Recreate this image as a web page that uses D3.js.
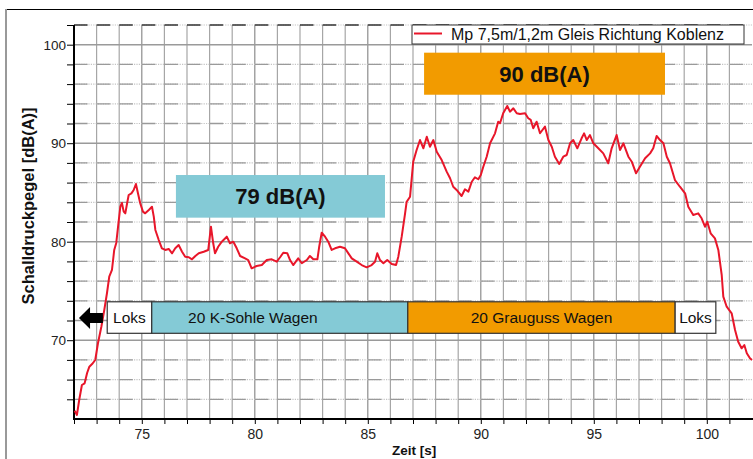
<!DOCTYPE html>
<html>
<head>
<meta charset="utf-8">
<script src="https://cdn.jsdelivr.net/npm/d3@7"></script>
<style>
  body { margin: 0; background: #fff; }
  text { font-family: 'Liberation Sans', Arial, sans-serif; }
</style>
</head>
<body>
<svg id="chart" width="753" height="459"></svg>
<script>
// Messreihe: Zeit [s] und Schalldruckpegel [dB(A)]
const zeit = [
  72.03, 72.13, 72.23, 72.35, 72.47, 72.58, 72.68, 72.80, 72.94, 73.06,
  73.21, 73.34, 73.46, 73.56, 73.68, 73.78, 73.87, 73.95, 74.05, 74.12,
  74.20, 74.27, 74.35, 74.42, 74.54, 74.64, 74.74, 74.83, 74.93, 75.05,
  75.15, 75.31, 75.45, 75.53, 75.60, 75.75, 75.89, 76.04, 76.19, 76.34,
  76.48, 76.63, 76.78, 76.92, 77.08, 77.22, 77.37, 77.52, 77.74, 77.94,
  78.06, 78.16, 78.24, 78.38, 78.54, 78.76, 78.90, 79.05, 79.20, 79.35,
  79.57, 79.71, 79.86, 80.08, 80.31, 80.53, 80.75, 80.97, 81.12, 81.26,
  81.44, 81.56, 81.70, 81.92, 82.08, 82.30, 82.44, 82.59, 82.77, 82.85,
  82.96, 83.11, 83.25, 83.40, 83.55, 83.77, 83.99, 84.14, 84.29, 84.51,
  84.73, 84.95, 85.17, 85.32, 85.42, 85.54, 85.69, 85.86, 86.06, 86.25,
  86.35, 86.50, 86.65, 86.72, 86.87, 87.01, 87.16, 87.31, 87.46, 87.61,
  87.75, 87.90, 88.05, 88.27, 88.49, 88.64, 88.78, 88.93, 89.15, 89.30,
  89.45, 89.60, 89.74, 89.89, 90.00, 90.11, 90.26, 90.41, 90.63, 90.77,
  90.85, 90.99, 91.17, 91.29, 91.44, 91.59, 91.73, 91.96, 92.10, 92.21,
  92.32, 92.47, 92.62, 92.84, 92.99, 93.14, 93.28, 93.47, 93.65, 93.80,
  93.95, 94.09, 94.27, 94.46, 94.57, 94.69, 94.83, 94.98, 95.20, 95.42,
  95.64, 95.79, 96.01, 96.16, 96.31, 96.53, 96.68, 96.87, 97.04, 97.27,
  97.49, 97.63, 97.78, 97.93, 98.08, 98.23, 98.37, 98.59, 98.81, 99.04,
  99.18, 99.40, 99.62, 99.77, 99.92, 100.02, 100.17, 100.36, 100.51, 100.66,
  100.73, 100.88, 101.10, 101.25, 101.39, 101.54, 101.66, 101.77, 101.91, 102.0
]
const pegel = [
  62.84, 62.41, 63.93, 65.45, 65.62, 66.67, 67.31, 67.58, 67.99, 69.69,
  71.37, 73.07, 74.79, 76.45, 77.13, 79.16, 79.87, 81.52, 83.55, 83.93,
  83.05, 82.88, 83.90, 84.74, 84.91, 85.25, 85.86, 84.91, 83.90, 83.05,
  82.88, 83.22, 83.55, 82.54, 81.19, 80.17, 79.33, 79.16, 79.26, 78.82,
  79.33, 79.66, 78.98, 78.48, 78.42, 78.21, 78.55, 78.82, 78.98, 79.16,
  81.52, 79.84, 78.82, 79.49, 80.00, 80.51, 79.84, 80.00, 79.33, 78.55,
  78.31, 78.14, 77.30, 77.53, 77.63, 78.14, 78.21, 77.97, 78.42, 78.88,
  78.82, 78.14, 77.63, 78.31, 77.81, 78.14, 78.55, 78.21, 78.21, 79.49,
  80.91, 80.51, 80.00, 79.16, 79.33, 79.49, 79.33, 78.82, 78.31, 77.97,
  77.63, 77.40, 77.63, 77.97, 78.82, 78.14, 77.81, 78.14, 77.74, 77.63,
  78.48, 80.51, 82.88, 84.06, 84.57, 88.12, 89.31, 90.32, 89.48, 90.66,
  89.64, 90.32, 89.14, 88.29, 87.11, 86.44, 85.58, 85.25, 84.64, 85.32,
  85.08, 86.09, 86.54, 86.34, 86.77, 87.61, 88.63, 89.99, 91.00, 92.18,
  92.02, 93.04, 93.78, 93.20, 93.54, 93.04, 92.96, 93.04, 92.53, 92.36,
  91.51, 92.18, 91.01, 91.68, 90.32, 89.64, 88.63, 87.89, 88.63, 88.80,
  89.99, 90.32, 89.48, 90.50, 91.00, 90.32, 90.83, 89.99, 89.48, 88.97,
  87.96, 89.48, 90.83, 89.31, 89.99, 88.63, 88.12, 86.94, 87.61, 88.47,
  88.97, 89.48, 90.73, 90.32, 89.99, 88.63, 87.96, 86.26, 85.58, 84.91,
  83.55, 82.71, 82.88, 82.38, 81.52, 82.03, 80.85, 80.34, 79.16, 76.62,
  74.42, 73.40, 72.73, 71.04, 69.85, 69.18, 69.51, 68.67, 68.16, 67.99
]
const xTicks = [75, 80, 85, 90, 95, 100]
const yTicks = [70, 80, 90, 100]
const legendLabel = 'Mp 7,5m/1,2m Gleis Richtung Koblenz'
// Zugverband (Zeitabschnitte)
const zugTeile = ['Loks', '20 K-Sohle Wagen', '20 Grauguss Wagen', 'Loks']
const zugGrenzen = [73.47, 75.44, 86.77, 98.6, 100.4]
// Mittelungspegel der Abschnitte
const mittelLabels = ['79 dB(A)', '90 dB(A)']
const mittelVon = [76.51, 87.49]
const mittelBis = [85.76, 98.15]

const width = 753
const height = 459
const padding = { top: 25, right: 1, bottom: 40, left: 74 }
const colors = ['#ffffff', '#84cad6', '#f29b00', '#ffffff']
const lineColor = '#e8162a'

const svg = d3.select('#chart')
const x = d3.scaleLinear().domain([72, 102]).range([padding.left, width - padding.right])
const y = d3.scaleLinear().domain([62, 102]).range([height - padding.bottom, padding.top])
const x0 = x.range()[0]
const x1 = x.range()[1]
const yb = y.range()[0]
const yt = y.range()[1]

// Rahmen
svg.append('line').attr('x1', 6).attr('x2', width).attr('y1', 9.5).attr('y2', 9.5)
  .attr('stroke', '#000').attr('stroke-width', 1)
svg.append('line').attr('x1', 6).attr('x2', 6).attr('y1', 9).attr('y2', height)
  .attr('stroke', '#999').attr('stroke-width', 2)

// Gitter
const grid = svg.append('g').attr('class', 'grid')
grid.selectAll('.vgrid').data(d3.range(73, 102))
  .enter().append('line')
  .attr('x1', d => x(d)).attr('x2', d => x(d))
  .attr('y1', yt).attr('y2', yb)
  .attr('stroke', d => d % 5 === 0 ? '#8c8c8c' : '#a6a6a6')
  .attr('stroke-width', 1.2)
const minorY = d3.range(64, 103, 2).filter(d => d % 10 !== 0)
const per = x(73) - x(72)
grid.selectAll('.hdot').data(minorY)
  .enter().append('line')
  .attr('x1', x0).attr('x2', x1)
  .attr('y1', d => y(d)).attr('y2', d => y(d))
  .attr('stroke', '#c4c4c4').attr('stroke-width', 1.2)
  .attr('stroke-dasharray', '1.2,1.2')
grid.selectAll('.hdash').data(minorY)
  .enter().append('line')
  .attr('x1', x0).attr('x2', x1)
  .attr('y1', d => y(d)).attr('y2', d => y(d))
  .attr('stroke', d => d === 102 ? '#333' : '#9a9a9a').attr('stroke-width', 1.3)
  .attr('stroke-dasharray', `${per * 0.6},${per * 0.4}`)
grid.selectAll('.hmajor').data(yTicks)
  .enter().append('line')
  .attr('x1', x0).attr('x2', x1)
  .attr('y1', d => y(d)).attr('y2', d => y(d))
  .attr('stroke', '#9a9a9a').attr('stroke-width', 1.4)

// Achsen
const yAxis = d3.axisLeft(y).tickValues(d3.range(64, 103, 2)).tickSize(7)
  .tickFormat(d => yTicks.includes(d) ? d : '')
const yAxisG = svg.append('g').attr('transform', `translate(${x0},0)`).call(yAxis)
yAxisG.select('.domain').remove()
yAxisG.selectAll('.tick line').attr('stroke', '#000')
yAxisG.selectAll('.tick text').attr('font-size', 13.5).attr('fill', '#222').attr('x', -8)
const xAxis = d3.axisBottom(x).tickValues(d3.range(72, 102)).tickSize(5)
  .tickFormat(d => xTicks.includes(d) ? d : '')
const xAxisG = svg.append('g').attr('transform', `translate(0,${yb})`).call(xAxis)
xAxisG.select('.domain').remove()
xAxisG.selectAll('.tick line').attr('stroke', '#000')
xAxisG.selectAll('.tick text').attr('font-size', 14).attr('fill', '#222').attr('y', 10)
svg.append('line').attr('x1', x0).attr('x2', x0).attr('y1', yt).attr('y2', yb + 1)
  .attr('stroke', '#000').attr('stroke-width', 2)
svg.append('line').attr('x1', x0 - 1).attr('x2', width).attr('y1', yb).attr('y2', yb)
  .attr('stroke', '#000').attr('stroke-width', 2)

svg.append('text')
  .attr('transform', 'translate(33.5,206) rotate(-90)')
  .attr('text-anchor', 'middle').attr('font-weight', 'bold').attr('font-size', 16.5)
  .attr('fill', '#111')
  .text('Schalldruckpegel [dB(A)]')
svg.append('text')
  .attr('x', 392).attr('y', 455)
  .attr('font-weight', 'bold').attr('font-size', 13.5).attr('fill', '#111')
  .text('Zeit [s]')

// Messkurve
const line = d3.line().x(d => x(d[0])).y(d => y(d[1]))
svg.append('path')
  .datum(zeit.map((t, i) => [t, pegel[i]]))
  .attr('d', line)
  .attr('fill', 'none')
  .attr('stroke', lineColor)
  .attr('stroke-width', 2)
  .attr('stroke-linejoin', 'round')

// Zugverband
const zug = svg.append('g').attr('class', 'zug')
const zugTop = y(73.9)
const zugBottom = y(70.7)
zugTeile.forEach((name, i) => {
  const a = x(zugGrenzen[i])
  const b = x(zugGrenzen[i + 1])
  zug.append('rect')
    .attr('x', a).attr('y', zugTop).attr('width', b - a).attr('height', zugBottom - zugTop)
    .attr('fill', colors[i]).attr('stroke', '#333').attr('stroke-width', 1.2)
  const cx = i === 1 ? a + (b - a) * 0.395 : (a + b) / 2
  zug.append('text')
    .attr('x', cx).attr('y', (zugTop + zugBottom) / 2 + 5.5)
    .attr('text-anchor', 'middle').attr('font-size', 15.5).attr('fill', '#111')
    .text(name)
})
// Fahrtrichtung
const ay = y(72.25)
const tip = x(72.22)
const neck = x(72.71)
const tail = x(73.28)
svg.append('path')
  .attr('d', `M${tip},${ay} L${neck},${ay - 11} L${neck},${ay - 5} L${tail},${ay - 5} L${tail},${ay + 5} L${neck},${ay + 5} L${neck},${ay + 11} Z`)
  .attr('fill', '#000')

// Mittelungspegel
const mittelY = [[86.77, 82.44], [99.19, 94.92]]
mittelLabels.forEach((label, i) => {
  const a = x(mittelVon[i])
  const b = x(mittelBis[i])
  const top = y(mittelY[i][0])
  const bot = y(mittelY[i][1])
  svg.append('rect')
    .attr('x', a).attr('y', top).attr('width', b - a).attr('height', bot - top)
    .attr('fill', colors[i + 1])
  svg.append('text')
    .attr('x', (a + b) / 2).attr('y', (top + bot) / 2 + 8)
    .attr('text-anchor', 'middle').attr('font-size', 22).attr('font-weight', 'bold')
    .attr('fill', '#111')
    .text(label)
})

// Legende
const legend = svg.append('g').attr('transform', 'translate(412,25)')
legend.append('rect').attr('width', 332).attr('height', 19)
  .attr('fill', '#fff').attr('stroke', '#333').attr('stroke-width', 1)
legend.append('line').attr('x1', 2).attr('x2', 30).attr('y1', 8.5).attr('y2', 8.5)
  .attr('stroke', lineColor).attr('stroke-width', 2)
legend.append('text').attr('x', 39).attr('y', 15)
  .attr('font-size', 16).attr('fill', '#111')
  .text(legendLabel)
</script>
</body>
</html>
